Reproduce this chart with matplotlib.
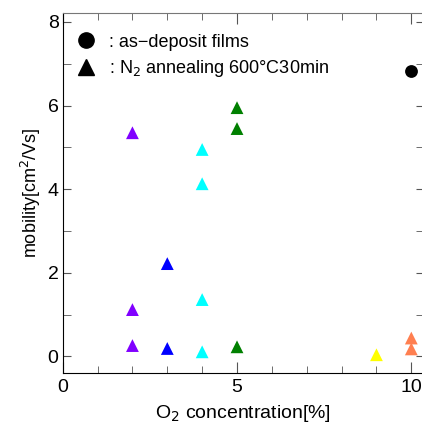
import matplotlib.pyplot as plt
from matplotlib.lines import Line2D
from matplotlib.ticker import MultipleLocator

plt.rcParams['font.family'] = ['Liberation Sans', 'DejaVu Sans']

# N2 annealed samples, grouped by O2 concentration
o2_anneal = [2, 2, 2, 3, 3, 4, 4, 4, 4, 5, 5, 5, 9, 10, 10]
mob_anneal = [5.35, 1.12, 0.26, 2.22, 0.19, 4.95, 4.13, 1.36, 0.11,
              5.95, 5.45, 0.23, 0.04, 0.44, 0.18]
colors_anneal = ['#8000ff', '#8000ff', '#8000ff', '#0000ff', '#0000ff',
                 '#00ffff', '#00ffff', '#00ffff', '#00ffff',
                 '#008000', '#008000', '#008000', '#ffff00', '#ff7f50', '#ff7f50']

# as-deposit films
o2_dep = [10]
mob_dep = [6.83]

fig = plt.figure(figsize=(4.22, 4.25), dpi=100)
ax = fig.add_axes([0.1486, 0.122, 0.855, 0.848])

ax.scatter(o2_anneal, mob_anneal, marker='^', s=85, c=colors_anneal,
           linewidths=0, zorder=3)
ax.scatter(o2_dep, mob_dep, marker='o', s=85, c='black', linewidths=0, zorder=3)

ax.set_xlim(0, 10.35)
ax.set_ylim(-0.4, 8.22)
ax.xaxis.set_major_locator(MultipleLocator(5))
ax.xaxis.set_minor_locator(MultipleLocator(1))
ax.yaxis.set_major_locator(MultipleLocator(2))
ax.yaxis.set_minor_locator(MultipleLocator(1))
ax.tick_params(which='both', direction='in', top=True, right=True,
               color='#555555', labelsize=14)
ax.tick_params(axis='x', which='major', length=8)
ax.tick_params(axis='x', which='minor', length=5)
ax.tick_params(axis='y', which='both', length=6)
ax.tick_params(axis='x', pad=4)
ax.tick_params(axis='y', pad=3)

ax.spines['top'].set_color('#777777')
ax.spines['right'].set_color('#777777')

ax.set_xlabel('O$_2$ concentration[%]', fontsize=14, labelpad=5)
ax.set_ylabel('mobility[cm$^2$/Vs]', fontsize=13, labelpad=3)

handles = [Line2D([], [], marker='o', color='black', linestyle='none', markersize=11),
           Line2D([], [], marker='^', color='black', linestyle='none', markersize=11)]
labels = [' : as\u2212deposit films', ' : N$_2$ annealing 600\u00b0C30min']
ax.legend(handles, labels, loc='upper left', frameon=False, fontsize=13,
          handletextpad=0.1, borderaxespad=0.0, labelspacing=0.4,
          handlelength=1.8, bbox_to_anchor=(0.0, 0.962))

fig.savefig('out.png', dpi=100)
